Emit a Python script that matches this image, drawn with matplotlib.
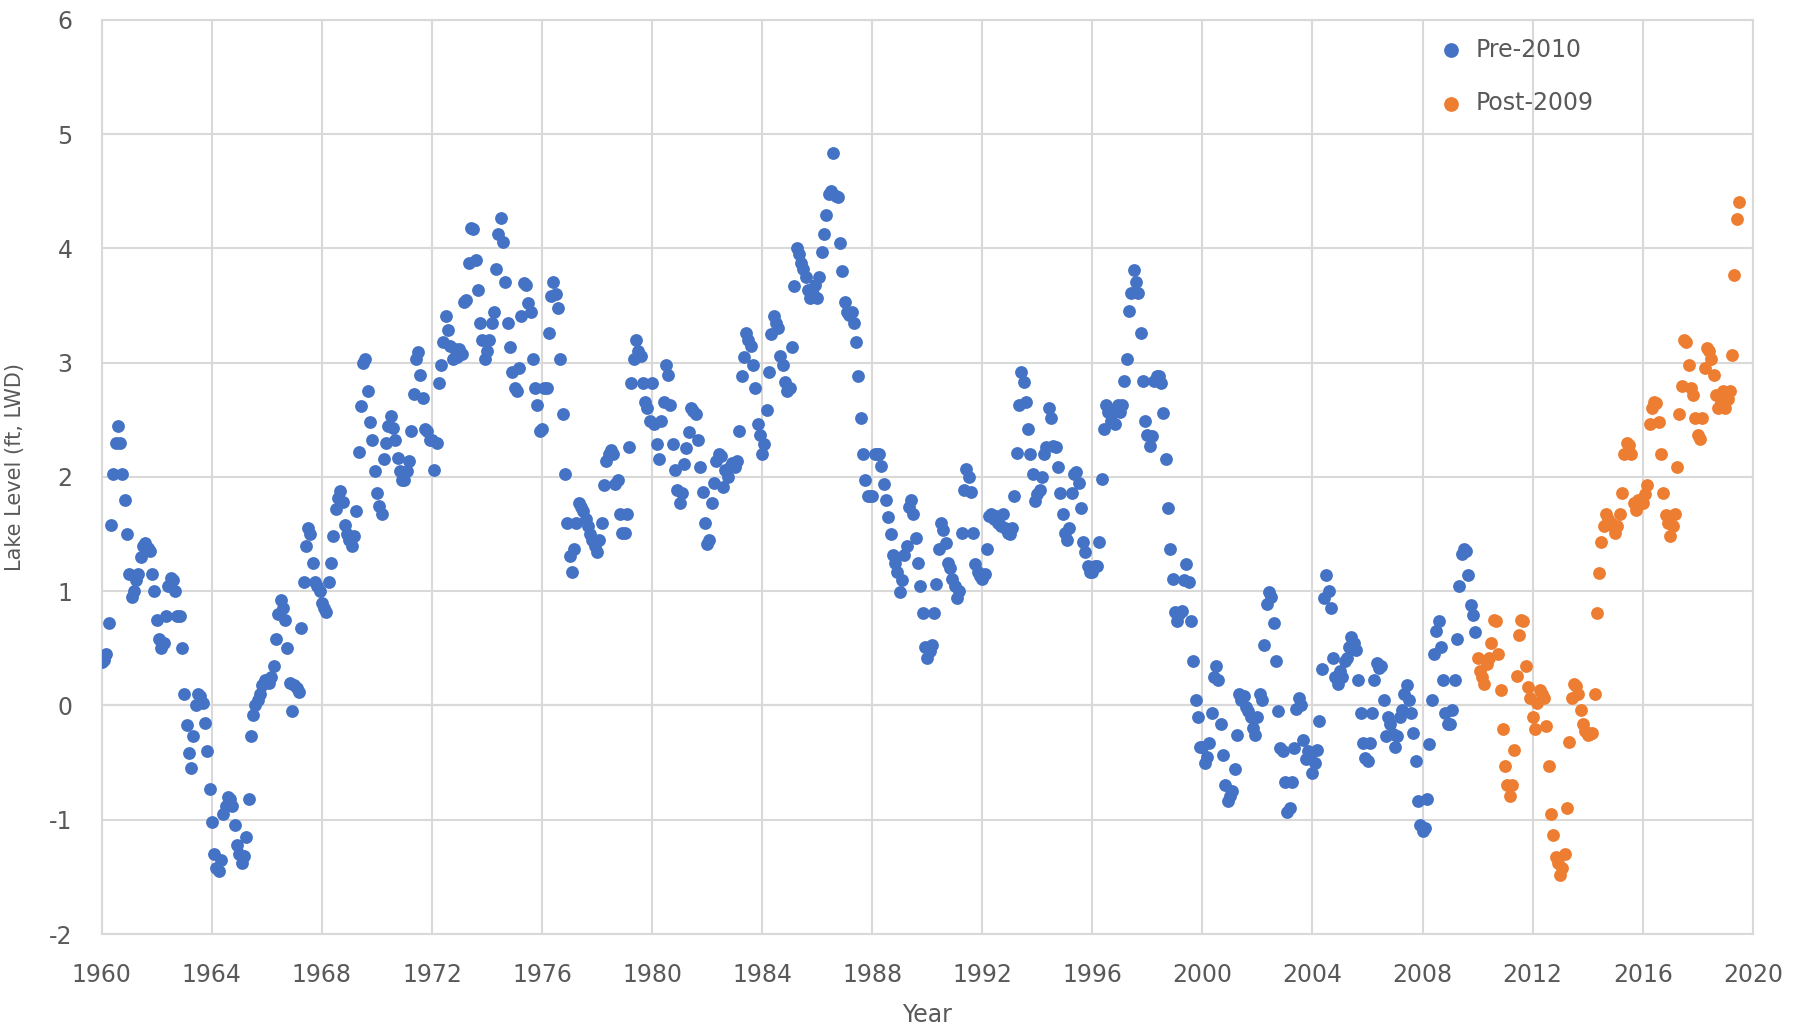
import numpy as np
import matplotlib.pyplot as plt

# 월평균 호수 수위 (ft, LWD) - 1월부터 12월 순서, 그림에서 읽은 값
lvl_1960s = [
    0.38, 0.40, 0.45, 0.72, 1.58, 2.03, 2.30, 2.45, 2.30, 2.03, 1.80, 1.50,
    1.15, 0.95, 1.00, 1.10, 1.15, 1.30, 1.40, 1.42, 1.38, 1.35, 1.15, 1.00,
    0.75, 0.58, 0.50, 0.55, 0.78, 1.05, 1.12, 1.10, 1.00, 0.78, 0.78, 0.50,
    0.10, -0.17, -0.42, -0.55, -0.27, 0.00, 0.10, 0.08, 0.02, -0.15, -0.40, -0.73,
    -1.02, -1.30, -1.42, -1.45, -1.35, -0.95, -0.88, -0.80, -0.82, -0.88, -1.05, -1.22,
    -1.30, -1.38, -1.32, -1.15, -0.82, -0.27, -0.08, 0.00, 0.05, 0.10, 0.18, 0.22,
    0.22, 0.20, 0.25, 0.35, 0.58, 0.80, 0.92, 0.85, 0.75, 0.50, 0.20, -0.05,
    0.18, 0.15, 0.12, 0.68, 1.08, 1.40, 1.55, 1.50, 1.25, 1.08, 1.05, 1.00,
    0.90, 0.85, 0.82, 1.08, 1.25, 1.48, 1.72, 1.82, 1.88, 1.78, 1.58, 1.50,
    1.45, 1.40, 1.48, 1.70, 2.22, 2.62, 3.00, 3.03, 2.75, 2.48, 2.32, 2.05,
]
lvl_1970s = [
    1.86, 1.75, 1.68, 2.16, 2.30, 2.45, 2.53, 2.43, 2.32, 2.17, 2.05, 1.97,
    1.97, 2.05, 2.14, 2.40, 2.73, 3.03, 3.09, 2.89, 2.69, 2.42, 2.40, 2.32,
    2.32, 2.06, 2.30, 2.82, 2.98, 3.18, 3.41, 3.29, 3.15, 3.03, 3.12, 3.05,
    3.12, 3.08, 3.53, 3.55, 3.87, 4.18, 4.17, 3.90, 3.64, 3.35, 3.20, 3.03,
    3.10, 3.20, 3.35, 3.44, 3.82, 4.13, 4.27, 4.06, 3.71, 3.35, 3.14, 2.92,
    2.78, 2.75, 2.95, 3.41, 3.70, 3.68, 3.52, 3.44, 3.03, 2.78, 2.63, 2.40,
    2.42, 2.78, 2.78, 3.26, 3.58, 3.71, 3.60, 3.48, 3.03, 2.55, 2.03, 1.60,
    1.31, 1.17, 1.37, 1.60, 1.77, 1.74, 1.70, 1.63, 1.57, 1.50, 1.45, 1.40,
    1.34, 1.45, 1.60, 1.93, 2.14, 2.20, 2.24, 2.20, 1.94, 1.97, 1.68, 1.51,
    1.51, 1.68, 2.26, 2.82, 3.03, 3.20, 3.10, 3.06, 2.82, 2.66, 2.60, 2.49,
]
lvl_1980s = [
    2.82, 2.46, 2.29, 2.16, 2.49, 2.66, 2.98, 2.89, 2.63, 2.29, 2.06, 1.89,
    1.77, 1.86, 2.11, 2.25, 2.39, 2.60, 2.58, 2.55, 2.32, 2.09, 1.87, 1.60,
    1.41, 1.45, 1.77, 1.95, 2.14, 2.20, 2.18, 1.91, 2.06, 2.00, 2.09, 2.12,
    2.09, 2.14, 2.40, 2.88, 3.05, 3.26, 3.20, 3.15, 2.98, 2.78, 2.46, 2.37,
    2.20, 2.29, 2.59, 2.92, 3.25, 3.41, 3.35, 3.30, 3.06, 2.98, 2.83, 2.75,
    2.78, 3.14, 3.67, 4.00, 3.95, 3.87, 3.82, 3.75, 3.64, 3.57, 3.60, 3.68,
    3.57, 3.75, 3.97, 4.13, 4.29, 4.48, 4.50, 4.84, 4.46, 4.45, 4.05, 3.80,
    3.53, 3.44, 3.42, 3.44, 3.35, 3.18, 2.88, 2.52, 2.20, 1.97, 1.83, 1.83,
    1.83, 2.20, 2.20, 2.20, 2.10, 1.94, 1.80, 1.65, 1.50, 1.32, 1.25, 1.17,
    0.99, 1.10, 1.32, 1.40, 1.74, 1.80, 1.68, 1.47, 1.25, 1.05, 0.81, 0.51,
]
lvl_1990s = [
    0.42, 0.48, 0.53, 0.81, 1.06, 1.37, 1.60, 1.54, 1.42, 1.25, 1.20, 1.11,
    1.05, 0.94, 1.00, 1.51, 1.89, 2.07, 2.00, 1.87, 1.51, 1.24, 1.17, 1.13,
    1.11, 1.15, 1.37, 1.66, 1.68, 1.63, 1.66, 1.60, 1.57, 1.68, 1.55, 1.51,
    1.50, 1.55, 1.83, 2.21, 2.63, 2.92, 2.83, 2.66, 2.42, 2.20, 2.03, 1.79,
    1.85, 1.89, 2.00, 2.20, 2.26, 2.60, 2.52, 2.27, 2.26, 2.09, 1.86, 1.68,
    1.51, 1.45, 1.55, 1.86, 2.03, 2.04, 1.95, 1.73, 1.43, 1.34, 1.22, 1.17,
    1.17, 1.22, 1.22, 1.43, 1.98, 2.42, 2.63, 2.57, 2.49, 2.57, 2.46, 2.63,
    2.57, 2.63, 2.84, 3.03, 3.45, 3.61, 3.81, 3.71, 3.61, 3.26, 2.84, 2.49,
    2.37, 2.27, 2.36, 2.84, 2.88, 2.88, 2.82, 2.56, 2.16, 1.73, 1.37, 1.11,
    0.82, 0.74, 0.80, 0.83, 1.10, 1.24, 1.08, 0.74, 0.39, 0.05, -0.10, -0.36,
]
lvl_2000s = [
    -0.36, -0.50, -0.45, -0.33, -0.07, 0.25, 0.35, 0.22, -0.16, -0.43, -0.70, -0.84,
    -0.79, -0.75, -0.56, -0.26, 0.10, 0.05, 0.08, -0.01, -0.05, -0.10, -0.20, -0.26,
    -0.10, 0.10, 0.05, 0.53, 0.89, 0.99, 0.95, 0.72, 0.39, -0.05, -0.37, -0.40,
    -0.67, -0.93, -0.90, -0.67, -0.37, -0.03, 0.07, 0.00, -0.30, -0.47, -0.40, -0.44,
    -0.59, -0.50, -0.39, -0.14, 0.32, 0.94, 1.14, 1.00, 0.85, 0.42, 0.25, 0.19,
    0.30, 0.25, 0.39, 0.42, 0.51, 0.60, 0.55, 0.49, 0.22, -0.07, -0.33, -0.46,
    -0.49, -0.33, -0.07, 0.22, 0.37, 0.33, 0.35, 0.05, -0.27, -0.10, -0.16, -0.25,
    -0.36, -0.27, -0.10, -0.04, 0.10, 0.18, 0.05, -0.07, -0.24, -0.49, -0.84, -1.05,
    -1.10, -1.07, -0.82, -0.34, 0.05, 0.45, 0.65, 0.74, 0.51, 0.22, -0.07, -0.16,
    -0.16, -0.04, 0.22, 0.58, 1.05, 1.33, 1.37, 1.35, 1.14, 0.88, 0.79, 0.64,
]
# 2010년 1월 ~ 2019년 7월
lvl_post = [
    0.42, 0.30, 0.25, 0.19, 0.36, 0.42, 0.55, 0.75, 0.74, 0.45, 0.14, -0.21,
    -0.53, -0.70, -0.79, -0.70, -0.39, 0.26, 0.62, 0.75, 0.74, 0.35, 0.16, 0.07,
    -0.10, -0.21, 0.02, 0.14, 0.10, 0.07, -0.18, -0.53, -0.95, -1.13, -1.33, -1.38,
    -1.48, -1.42, -1.30, -0.90, -0.32, 0.07, 0.19, 0.17, 0.10, -0.04, -0.16, -0.22,
    -0.26, -0.25, -0.24, 0.10, 0.81, 1.16, 1.43, 1.57, 1.68, 1.63, 1.60, 1.57,
    1.51, 1.57, 1.68, 1.86, 2.20, 2.30, 2.28, 2.20, 1.77, 1.71, 1.80, 1.77,
    1.77, 1.85, 1.93, 2.46, 2.60, 2.66, 2.65, 2.48, 2.20, 1.86, 1.67, 1.60,
    1.48, 1.57, 1.68, 2.09, 2.55, 2.80, 3.20, 3.18, 2.98, 2.78, 2.72, 2.52,
    2.37, 2.33, 2.52, 2.95, 3.13, 3.10, 3.03, 2.89, 2.72, 2.60, 2.66, 2.75,
    2.60, 2.68, 2.75, 3.07, 3.77, 4.26, 4.41,
]

pre_2010 = lvl_1960s + lvl_1970s + lvl_1980s + lvl_1990s + lvl_2000s
x_pre = 1960 + np.arange(len(pre_2010)) / 12
x_post = 2010 + np.arange(len(lvl_post)) / 12

grey = '#595959'
plt.rcParams['axes.unicode_minus'] = False

fig = plt.figure(figsize=(18.04, 10.30), dpi=100)
ax = fig.add_axes([0.0564, 0.0932, 0.9152, 0.8874])

ax.scatter(x_pre, pre_2010, s=85, color='#4472C4', linewidths=0, zorder=3, label='Pre-2010')
ax.scatter(x_post, lvl_post, s=85, color='#ED7D31', linewidths=0, zorder=3, label='Post-2009')

ax.set_xlim(1960, 2020)
ax.set_ylim(-2, 6)
ax.set_xticks(range(1960, 2021, 4))
ax.set_yticks(range(-2, 7))
ax.grid(color='#D9D9D9', linewidth=1.5, zorder=0)
ax.axhline(0, color='#BFBFBF', linewidth=1.5, zorder=1)
for sp in ax.spines.values():
    sp.set_color('#D9D9D9')
    sp.set_linewidth(1.5)
ax.tick_params(length=0, labelsize=17, labelcolor=grey, pad=21)

ax.set_ylabel('Lake Level (ft, LWD)', fontsize=15, color=grey)
ax.yaxis.set_label_coords(-0.0465, 0.511)
fig.text(0.514, 0.008, 'Year', ha='center', va='baseline', fontsize=17, color=grey)

ax.legend(loc='upper left', bbox_to_anchor=(0.79, 1.004), frameon=False,
          fontsize=17, labelcolor=grey, handletextpad=0.05, labelspacing=1.25,
          markerscale=1.15)

fig.savefig('out.png', dpi=100)
